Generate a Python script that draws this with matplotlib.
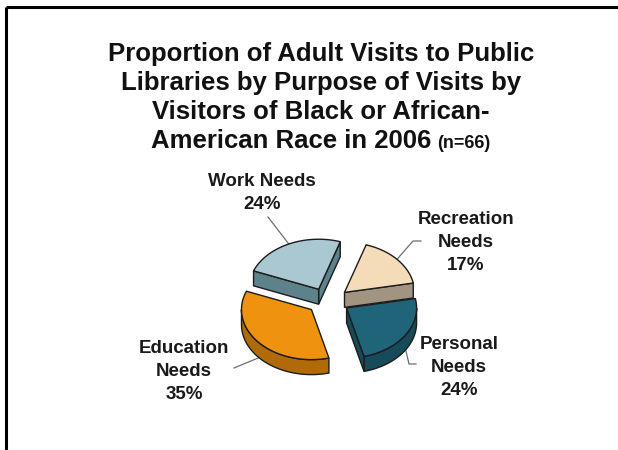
import numpy as np
import matplotlib
matplotlib.use("Agg")
import matplotlib.pyplot as plt
from matplotlib.patches import Polygon

# visit purposes, clockwise from the top
purposes = ["Recreation\nNeeds", "Personal\nNeeds", "Education\nNeeds", "Work Needs"]
shares = [17, 24, 35, 24]
top_colors = ["#f5dcb8", "#1f6478", "#ee9210", "#a9c8d2"]
side_colors = ["#a19481", "#164b5a", "#b06a0a", "#5d828c"]

title_lines = ["Proportion of Adult Visits to Public",
               "Libraries by Purpose of Visits by",
               "Visitors of Black or African-",
               "American Race in 2006"]
n_note = "(n=66)"

FONT = "Liberation Sans"

# pie geometry in pixel units (axes span the whole figure)
CX, CY = 328, 301
RX, RY, DEPTH = 70, 50, 15
START = 72.0           # deg, boundary between Work and Recreation
EX, EY = 22, 13        # explode distances
EDGE = "#1c1c1c"

# label centres (x, top) and leader elbows / ends
label_pos = [(466, 211), (459, 336), (184, 340), (262, 173)]
leader_end = [(421, 241), (416, 364), (234, 368), (268, 217)]
leader_elbow = [(413, 241), (409, 364), None, None]

fig = plt.figure(figsize=(6.18, 4.5), dpi=100)
ax = fig.add_axes([0, 0, 1, 1])
ax.set_xlim(0, 618)
ax.set_ylim(450, 0)
ax.axis("off")

# frame
ax.plot([6, 618], [7, 7], color="black", lw=2.2, solid_capstyle="butt")
ax.plot([6, 6], [7, 450], color="black", lw=2.2, solid_capstyle="butt")


def pt(cx, cy, t, dz=0.0):
    return cx + RX * np.cos(t), cy - RY * np.sin(t) + dz


# angle spans (counter-clockwise lo -> hi) for each wedge
spans = []
hi = np.deg2rad(START)
for v in shares:
    lo = hi - np.deg2rad(360.0 * v / sum(shares))
    spans.append((lo, hi))
    hi = lo

wedges = []
for i, (lo, hi) in enumerate(spans):
    mid = 0.5 * (lo + hi)
    cx = CX + EX * np.cos(mid)
    cy = CY - EY * np.sin(mid)
    wedges.append(dict(i=i, lo=lo, hi=hi, mid=mid, cx=cx, cy=cy))

# back wedges first
for w in sorted(wedges, key=lambda w: w["cy"]):
    i, lo, hi, cx, cy = w["i"], w["lo"], w["hi"], w["cx"], w["cy"]
    ts = np.linspace(lo, hi, 240)
    # outer rim side, only where it faces the viewer
    front = ts[np.sin(ts) <= 0]
    if len(front) > 1:
        x, y = pt(cx, cy, front)
        xs = np.concatenate([x, x[::-1]])
        ys = np.concatenate([y, (y + DEPTH)[::-1]])
        ax.add_patch(Polygon(np.column_stack([xs, ys]), closed=True,
                             fc=side_colors[i], ec=EDGE, lw=1.0, zorder=2))
    # radial faces
    for t, normal in [(lo, lo - np.pi / 2), (hi, hi + np.pi / 2)]:
        if np.sin(normal) < 0:
            ex, ey = pt(cx, cy, t)
            quad = [(cx, cy), (ex, ey), (ex, ey + DEPTH), (cx, cy + DEPTH)]
            ax.add_patch(Polygon(quad, closed=True, fc=side_colors[i],
                                 ec=EDGE, lw=1.0, zorder=2))
    # top face
    x, y = pt(cx, cy, ts)
    poly = np.column_stack([np.concatenate([[cx], x]), np.concatenate([[cy], y])])
    ax.add_patch(Polygon(poly, closed=True, fc=top_colors[i], ec=EDGE,
                         lw=1.0, zorder=2))

# labels and leader lines
for w in wedges:
    i = w["i"]
    ax_, ay_ = pt(w["cx"], w["cy"], w["mid"])
    if np.sin(w["mid"]) < 0:
        ay_ += DEPTH
    path = [(ax_, ay_)]
    if leader_elbow[i] is not None:
        path.append(leader_elbow[i])
    path.append(leader_end[i])
    px, py = zip(*path)
    ax.plot(px, py, color="#6e6e6e", lw=0.9, zorder=1)
    lx, ly = label_pos[i]
    ax.text(lx, ly, f"{purposes[i]}\n{shares[i]}%", ha="center", va="top",
            fontsize=13.5, fontweight="bold", family=FONT,
            linespacing=1.45, color="#1a1a1a")

# title, one line at a time; the sample size sits in a smaller face
TX, TY0, TDY = 321, 61, 29
for k, line in enumerate(title_lines[:-1]):
    ax.text(TX, TY0 + k * TDY, line, ha="center", va="baseline",
            fontsize=18.5, fontweight="bold", family=FONT, color="#111111")

r = fig.canvas.get_renderer()
y_last = TY0 + 3 * TDY
t_main = ax.text(0, y_last, title_lines[-1], ha="left", va="baseline",
                 fontsize=18.5, fontweight="bold", family=FONT, color="#111111")
t_note = ax.text(0, y_last, n_note, ha="left", va="baseline",
                 fontsize=13, fontweight="bold", family=FONT, color="#111111")
w_main = t_main.get_window_extent(r).width
w_note = t_note.get_window_extent(r).width
gap = 6
x0 = TX - (w_main + gap + w_note) / 2
t_main.set_x(x0)
t_note.set_x(x0 + w_main + gap)

fig.savefig("out.png", dpi=100)
